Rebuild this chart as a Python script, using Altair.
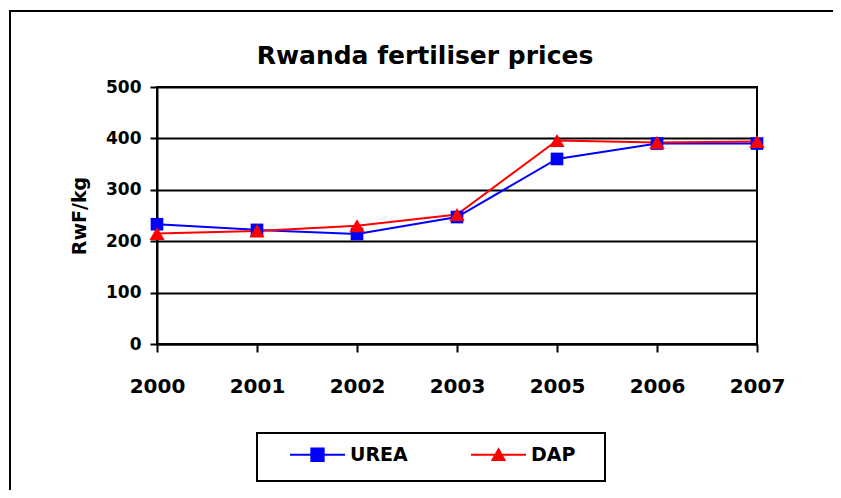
import altair as alt
import pandas as pd

years = ["2000", "2001", "2002", "2003", "2005", "2006", "2007"]
urea = [233, 222, 214, 247, 360, 390, 390]
dap = [215, 220, 230, 252, 396, 392, 394]
series = ["UREA", "DAP"]
colors = ["#0000FF", "#FF0000"]
shapes = ["square", "triangle-up"]
marker_sizes = [160, 230]
legend_paths = [
    "M-5,-0.18H5V0.18H-5Z M-1.3,-1.3H1.3V1.3H-1.3Z",
    "M-5,-0.18H5V0.18H-5Z M0,-1.35L1.4,1.15L-1.4,1.15Z",
]

rows = []
for s, vals in zip(series, [urea, dap]):
    for yr, v in zip(years, vals):
        rows.append({"year": yr, "series": s, "price": v})
df = pd.DataFrame(rows)

FONT = "DejaVu Sans"

x_enc = alt.X(
    "year:N", sort=years,
    scale=alt.Scale(type="point", padding=0),
    axis=alt.Axis(title=None, labelAngle=0, labelFontSize=20, labelPadding=24,
                  tickSize=8, grid=False),
)
y_enc = alt.Y(
    "price:Q",
    scale=alt.Scale(domain=[0, 500]),
    axis=alt.Axis(title="RwF/kg", values=[0, 100, 200, 300, 400, 500], grid=True,
                  labelFontSize=17, labelPadding=9, tickSize=7,
                  titleFontSize=19, titlePadding=16),
)

base = alt.Chart(df)

frame = alt.Chart(alt.Data(values=[{}])).mark_rect(
    fill="transparent", stroke="black", strokeWidth=2
).encode(x=alt.value(-147), x2=alt.value(800), y=alt.value(-76), y2=alt.value(600))

legend_box = alt.Chart(alt.Data(values=[{}])).mark_rect(
    fill="transparent", stroke="black", strokeWidth=2
).encode(x=alt.value(100), x2=alt.value(448), y=alt.value(346), y2=alt.value(394))

lines = base.mark_line(strokeWidth=2).encode(
    x=x_enc, y=y_enc,
    color=alt.Color("series:N", scale=alt.Scale(domain=series, range=colors), legend=None),
)

points = base.mark_point(filled=True, opacity=1).encode(
    x=x_enc, y=y_enc,
    color=alt.Color("series:N", scale=alt.Scale(domain=series, range=colors), legend=None),
    shape=alt.Shape("series:N", scale=alt.Scale(domain=series, range=shapes), legend=None),
    size=alt.Size("series:N", scale=alt.Scale(domain=series, range=marker_sizes), legend=None),
)

legend_layer = base.transform_filter("false").mark_point(filled=True, opacity=1).encode(
    x=x_enc, y=y_enc,
    color=alt.Color("series:N", scale=alt.Scale(domain=series, range=colors),
                    legend=alt.Legend(title=None, orient="none", direction="horizontal",
                                      legendX=151, legendY=358,
                                      symbolSize=121, symbolStrokeWidth=0, symbolOpacity=1,
                                      labelFontSize=19, labelFont=FONT, labelFontWeight="bold",
                                      labelColor="black", labelOffset=23, columnPadding=63,
                                      padding=0)),
    shape=alt.Shape("series:N", scale=alt.Scale(domain=series, range=legend_paths)),
)

chart = alt.layer(frame, legend_box, lines, points, legend_layer).resolve_scale(
    color="independent", shape="independent", size="independent"
).properties(
    width=600, height=257,
    background="white",
    title=alt.TitleParams("Rwanda fertiliser prices", fontSize=25, font=FONT,
                          fontWeight="bold", color="black", dx=-32, offset=-59),
    autosize=alt.AutoSizeParams(type="none"),
    padding={"left": 149, "top": 79, "right": 76, "bottom": 146},
).configure_axis(
    labelFont=FONT, labelFontWeight="bold", labelColor="black",
    titleFont=FONT, titleFontWeight="bold", titleColor="black",
    domainColor="black", domainWidth=2, tickColor="black", tickWidth=2,
    gridColor="black", gridWidth=2, gridOpacity=1,
).configure_view(stroke="black", strokeWidth=2)

chart.save("out.html", embed_options={"renderer": "svg", "actions": False})
